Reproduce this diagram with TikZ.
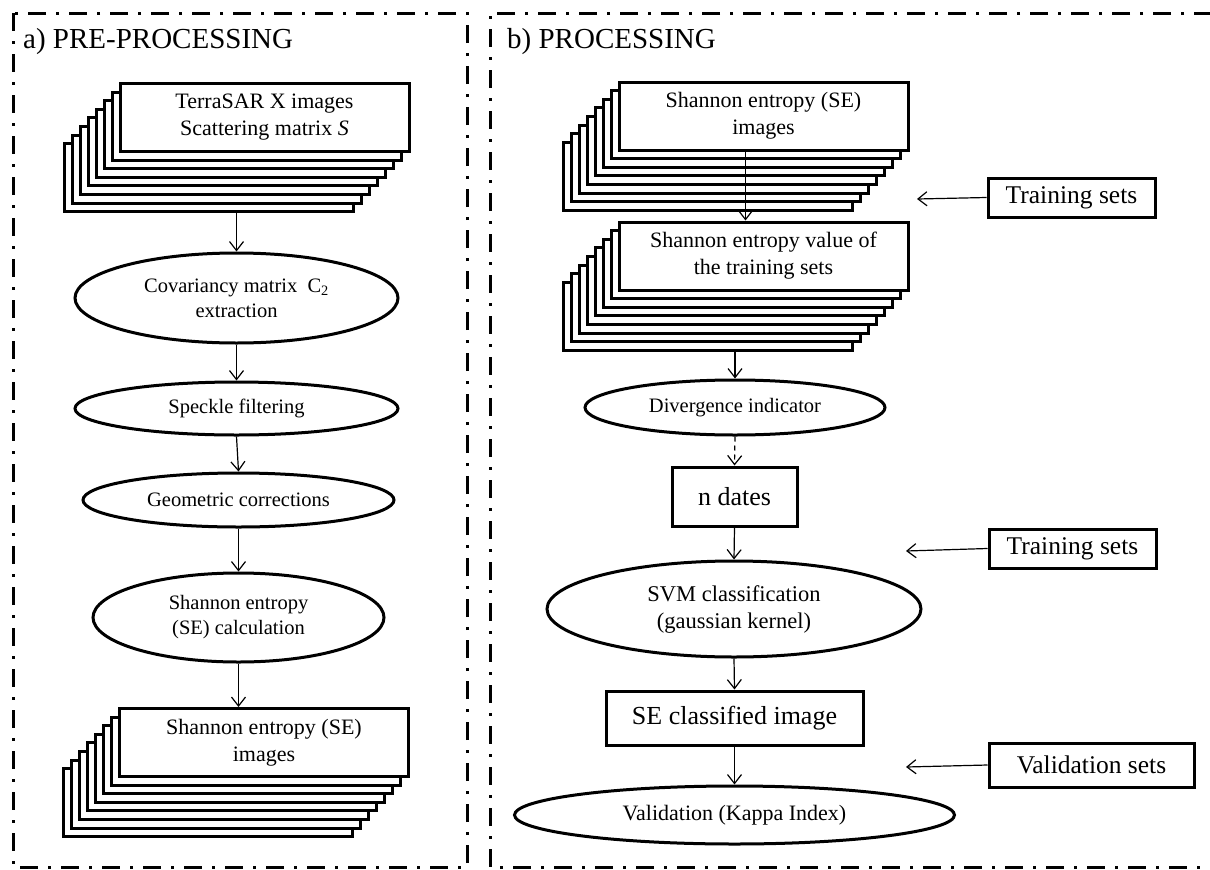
\documentclass[tikz,border=0pt]{standalone}
\usepackage{fontspec}
\setmainfont{Liberation Serif}
\usetikzlibrary{arrows.meta,shapes.geometric}
\begin{document}
\begin{tikzpicture}[x=1pt,y=-1pt,
  frame/.style={line width=3pt, dash pattern=on 18pt off 10pt on 3pt off 10pt},
  sbox/.style={draw, line width=3pt, fill=white, minimum width=289pt, minimum height=68pt, inner sep=0pt, align=center, font=\fontsize{22}{27}\selectfont},
  ell/.style={draw, ellipse, line width=3pt, inner sep=0pt, align=center},
  efont/.style={font=\fontsize{20.5}{25}\selectfont},
  rbox/.style={draw, line width=3pt, inner sep=0pt, align=center, font=\fontsize{25.5}{30}\selectfont},
  arr/.style={line width=1.2pt, -{Straight Barb[length=9pt,width=14pt]}},
  ttl/.style={anchor=base west, inner sep=0pt, font=\fontsize{29}{34}\selectfont}
]
\useasboundingbox (0,0) rectangle (1210,870);

% frames
\draw[frame] (13,13) rectangle (467,867);
\draw[frame] (1212,13) -- (490,13) -- (490,867) -- (1212,867);

% titles
\node[ttl] (ta) at (23,48) {a) PRE-PROCESSING};
\node[ttl] (tb) at (507,48) {b) PROCESSING};

% ---------- left panel ----------
\foreach \i in {7,...,1} \node[sbox] (a1-\i) at (264.5-8*\i,117.5+8.6*\i) {};
\node[sbox] (a1) at (264.5,117.5) {TerraSAR X images\\Scattering matrix \textit{S}};

\node[ell, efont, minimum width=323pt, minimum height=90pt] (cov) at (236.5,298) {Covariancy matrix\ \ C\textsubscript{2}\\extraction};
\node[ell, efont, minimum width=323pt, minimum height=53pt] (spk) at (236.5,408.5) {Speckle filtering};
\node[ell, efont, minimum width=311pt, minimum height=54pt] (geo) at (238.5,500) {Geometric corrections};
\node[ell, efont, minimum width=291pt, minimum height=89pt] (sec) at (238.5,617.5) {Shannon entropy\\(SE) calculation};

\foreach \i in {7,...,1} \node[sbox] (a2-\i) at (264-8*\i,742.5+8.6*\i) {};
\node[sbox] (a2) at (264,742.5) {Shannon entropy (SE)\\images};

\draw[arr] (cov.north |- a1-7.south) -- (cov.north);
\draw[arr] (cov.south) -- (spk.north);
\draw[arr] (spk.south) -- (geo.north);
\draw[arr] (geo.south) -- (sec.north);
\draw[arr] (sec.south) -- (sec.south |- a2.north);

% ---------- right panel ----------
\foreach \i in {7,...,1} \node[sbox] (a3-\i) at (763.5-8*\i,116+8.6*\i) {};
\node[sbox] (a3) at (763.5,116) {Shannon entropy (SE)\\images};

\foreach \i in {7,...,1} \node[sbox] (a4-\i) at (763.5-8*\i,256+8.6*\i) {};
\node[sbox] (a4) at (763.5,256) {Shannon entropy value of\\the training sets};

\draw[arr] ([xshift=-18pt]a3.south) -- ([xshift=-18pt]a4.north);

\node[ell, efont, minimum width=300pt, minimum height=55pt] (div) at (735,407.5) {Divergence indicator};
\node[rbox, minimum width=125pt, minimum height=59pt, font=\fontsize{26}{30}\selectfont] (nd) at (734.5,496.5) {n dates};
\node[ell, minimum width=374pt, minimum height=96pt, font=\fontsize{22.5}{27}\selectfont] (svm) at (734,609) {SVM classification\\(gaussian kernel)};
\node[rbox, minimum width=257pt, minimum height=54pt, font=\fontsize{26}{30}\selectfont] (se) at (734.5,718) {SE classified image};
\node[ell, minimum width=440pt, minimum height=58pt, font=\fontsize{22}{26}\selectfont] (val) at (734.5,815) {Validation (Kappa Index)};

\node[rbox, minimum width=167pt, minimum height=39pt] (tr1) at (1071.5,197.5) {Training sets};
\node[rbox, minimum width=167pt, minimum height=39pt] (tr2) at (1072.5,548.5) {Training sets};
\node[rbox, minimum width=205pt, minimum height=44pt] (vs) at (1091.5,765) {Validation sets};

\coordinate (c1) at (917,199);
\coordinate (c2) at (906,551);
\coordinate (c3) at (906,767);

\draw[arr] (div.north |- a4-7.south) -- (div.north);
\draw[arr, dash pattern=on 5pt off 4pt] (div.south) -- (nd.north);
\draw[arr] (nd.south) -- (svm.north);
\draw[arr] (svm.south) -- (se.north);
\draw[arr] (se.south) -- (val.north);
\draw[arr] (tr1.west) -- (c1);
\draw[arr] (tr2.west) -- (c2);
\draw[arr] (vs.west) -- (c3);
\end{tikzpicture}
\end{document}
